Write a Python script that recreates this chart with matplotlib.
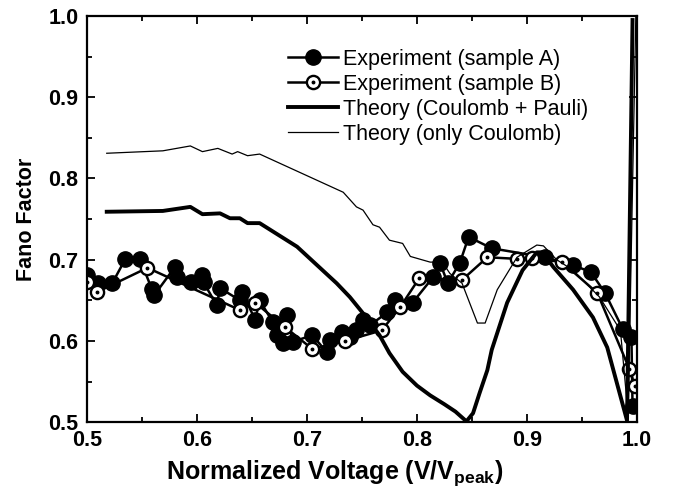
import matplotlib
matplotlib.use("Agg")
import matplotlib.pyplot as plt
from matplotlib.ticker import MultipleLocator

plt.rcParams['font.family'] = ['Liberation Sans', 'DejaVu Sans']
plt.rcParams['mathtext.fontset'] = 'custom'
plt.rcParams['mathtext.bf'] = 'Liberation Sans:bold'
plt.rcParams['mathtext.rm'] = 'Liberation Sans'

# sample A (filled circles)
a_x = [0.500, 0.510, 0.523, 0.535, 0.548, 0.559, 0.561, 0.580, 0.582, 0.595,
       0.605, 0.606, 0.618, 0.621, 0.639, 0.641, 0.653, 0.657, 0.669, 0.673,
       0.678, 0.682, 0.687, 0.705, 0.718, 0.721, 0.732, 0.739, 0.745, 0.751,
       0.757, 0.773, 0.780, 0.796, 0.815, 0.821, 0.828, 0.839, 0.847, 0.868,
       0.916, 0.942, 0.958, 0.971, 0.987, 0.995, 0.996]
a_y = [0.681, 0.671, 0.671, 0.701, 0.701, 0.664, 0.656, 0.691, 0.679, 0.672,
       0.681, 0.672, 0.644, 0.665, 0.650, 0.660, 0.626, 0.650, 0.623, 0.607,
       0.597, 0.632, 0.599, 0.607, 0.586, 0.601, 0.611, 0.605, 0.613, 0.626,
       0.619, 0.635, 0.650, 0.647, 0.679, 0.696, 0.671, 0.696, 0.728, 0.714,
       0.703, 0.693, 0.685, 0.659, 0.615, 0.605, 0.520]

# sample B (open circles)
b_x = [0.500, 0.509, 0.555, 0.639, 0.653, 0.680, 0.705, 0.735, 0.768, 0.785,
       0.802, 0.841, 0.864, 0.891, 0.905, 0.932, 0.964, 0.993, 0.998]
b_y = [0.672, 0.660, 0.690, 0.638, 0.647, 0.617, 0.590, 0.600, 0.613, 0.642,
       0.677, 0.675, 0.703, 0.701, 0.702, 0.697, 0.659, 0.566, 0.545]

# theory, Coulomb + Pauli
cp_x = [0.518, 0.569, 0.594, 0.605, 0.621, 0.630, 0.639, 0.646, 0.657, 0.691,
        0.727, 0.739, 0.751, 0.766, 0.775, 0.787, 0.800, 0.812, 0.825, 0.835,
        0.845, 0.851, 0.857, 0.864, 0.868, 0.882, 0.896, 0.909, 0.914, 0.924,
        0.942, 0.960, 0.973, 0.991, 0.996]
cp_y = [0.759, 0.760, 0.765, 0.756, 0.757, 0.751, 0.751, 0.745, 0.745, 0.716,
        0.671, 0.654, 0.634, 0.607, 0.585, 0.562, 0.545, 0.533, 0.522, 0.513,
        0.501, 0.511, 0.536, 0.564, 0.589, 0.647, 0.687, 0.709, 0.709, 0.691,
        0.663, 0.629, 0.592, 0.502, 0.995]

# theory, only Coulomb
c_x = [0.518, 0.569, 0.594, 0.605, 0.619, 0.632, 0.637, 0.646, 0.657, 0.733,
       0.745, 0.751, 0.760, 0.766, 0.775, 0.787, 0.794, 0.812, 0.823, 0.830,
       0.841, 0.855, 0.862, 0.873, 0.891, 0.909, 0.915, 0.927, 0.942, 0.966,
       0.985, 0.992, 0.999]
c_y = [0.831, 0.834, 0.840, 0.833, 0.837, 0.830, 0.833, 0.828, 0.830, 0.783,
       0.765, 0.761, 0.743, 0.740, 0.724, 0.720, 0.704, 0.697, 0.697, 0.683,
       0.671, 0.622, 0.622, 0.663, 0.703, 0.718, 0.717, 0.700, 0.687, 0.654,
       0.613, 0.509, 1.000]

fig = plt.figure(figsize=(6.74, 4.99), dpi=100)
ax = fig.add_axes([0.129, 0.154, 0.816, 0.814])

la, = ax.plot(a_x, a_y, color='black', lw=1.8, marker='o', ms=11,
              mfc='black', mec='black')
lb, = ax.plot(b_x, b_y, color='black', lw=1.8, marker='o', ms=9.5,
              mfc='white', mec='black', mew=1.7)
ld, = ax.plot(b_x, b_y, ls='none', marker='o', ms=1.8, color='black')
lcp, = ax.plot(cp_x, cp_y, color='black', lw=2.8)
lc, = ax.plot(c_x, c_y, color='black', lw=0.9)

ax.set_xlim(0.5, 1.0)
ax.set_ylim(0.5, 1.0)
ax.xaxis.set_major_locator(MultipleLocator(0.1))
ax.xaxis.set_minor_locator(MultipleLocator(0.05))
ax.yaxis.set_major_locator(MultipleLocator(0.1))
ax.yaxis.set_minor_locator(MultipleLocator(0.05))
ax.tick_params(which='both', direction='in', top=True, right=True, width=1.3)
ax.tick_params(which='major', length=6, labelsize=15.5, pad=6)
ax.tick_params(which='minor', length=3.5)
for lab in ax.get_xticklabels() + ax.get_yticklabels():
    lab.set_fontweight('bold')
for sp in ax.spines.values():
    sp.set_linewidth(1.6)

ax.set_xlabel(r'Normalized Voltage (V/V$_\mathbf{peak}$)', fontsize=18,
              fontweight='bold', labelpad=8)
ax.xaxis.set_label_coords(0.45, -0.09, transform=ax.transAxes)
ax.xaxis.label.set_va('top')
ax.set_ylabel('Fano Factor', fontsize=15.5, fontweight='bold', labelpad=8)

ax.legend([la, (lb, ld), lcp, lc],
          ['Experiment (sample A)', 'Experiment (sample B)',
           'Theory (Coulomb + Pauli)', 'Theory (only Coulomb)'],
          loc='upper left', bbox_to_anchor=(0.35, 0.94), frameon=False,
          fontsize=15.5, handlelength=2.3, handletextpad=0.25,
          labelspacing=0.18, borderaxespad=0)

fig.savefig('out.png', dpi=100)
